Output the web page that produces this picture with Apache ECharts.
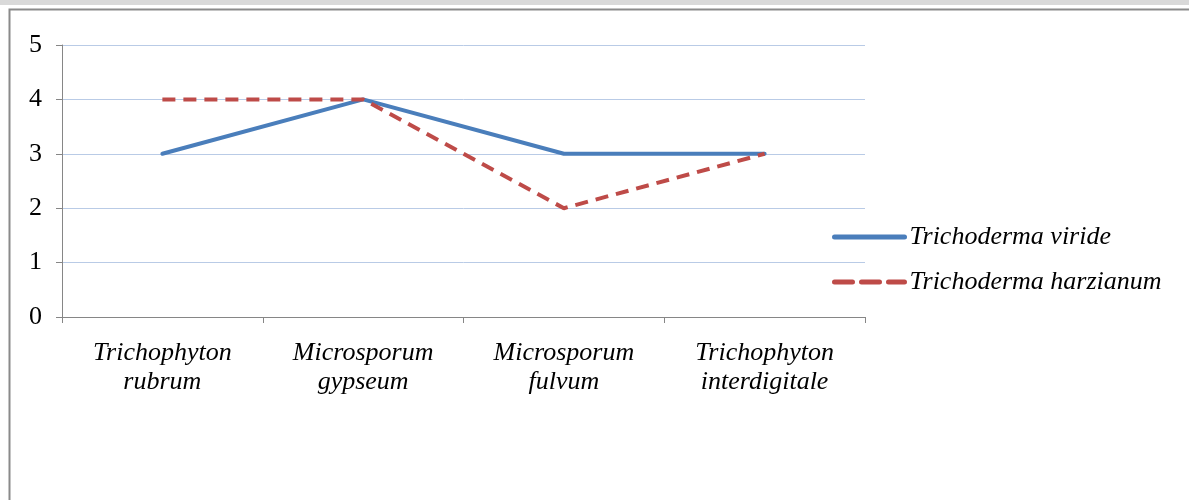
<!DOCTYPE html>
<html>
<head>
  <meta charset="utf-8">
</head>
<body style="margin: 0; background: #fff">
  <div id="container" style="width: 1189px; height: 500px"></div>

  <script type="text/javascript" src="https://cdn.jsdelivr.net/npm/echarts@6/dist/echarts.min.js"></script>

  <script type="text/javascript">
    var categories = [
      'Trichophyton\nrubrum',
      'Microsporum\ngypseum',
      'Microsporum\nfulvum',
      'Trichophyton\ninterdigitale'
    ];
    var viride = [3, 4, 3, 3];
    var harzianum = [4, 4, 2, 3];
    var seriesNames = ['Trichoderma viride', 'Trichoderma harzianum'];

    var font = '"Liberation Serif", "Times New Roman", serif';
    var chart = echarts.init(document.getElementById('container'), null, { renderer: 'canvas' });

    var option = {
      animation: false,
      backgroundColor: '#fff',
      graphic: [
        { type: 'rect', shape: { x: 0, y: 0, width: 1189, height: 5 }, style: { fill: '#d9d9d9' } },
        { type: 'rect', shape: { x: 9.5, y: 9.5, width: 1300, height: 600 }, style: { fill: 'none', stroke: '#8a8a8a', lineWidth: 2 } }
      ],
      grid: { left: 62, right: 324, top: 45, bottom: 183 },
      legend: {
        orient: 'vertical',
        left: 827,
        top: 218,
        itemWidth: 70,
        itemHeight: 14,
        itemGap: 17,
        itemStyle: { opacity: 0 },
        lineStyle: { width: 5 },
        textStyle: { fontFamily: font, fontStyle: 'italic', fontSize: 26, color: '#000', lineHeight: 28 },
        data: [
          { name: seriesNames[0], lineStyle: { width: 5, cap: 'round' } },
          { name: seriesNames[1], lineStyle: { width: 5, type: [18, 9], cap: 'round' } }
        ]
      },
      xAxis: {
        type: 'category',
        data: categories,
        boundaryGap: true,
        axisLine: { lineStyle: { color: '#868686', width: 1 } },
        axisTick: { show: true, length: 6, alignWithLabel: false, lineStyle: { color: '#868686' } },
        axisLabel: { margin: 22, fontFamily: font, fontStyle: 'italic', fontSize: 26, color: '#000', lineHeight: 29, interval: 0 }
      },
      yAxis: {
        type: 'value',
        min: 0,
        max: 5,
        interval: 1,
        axisLine: { show: true, lineStyle: { color: '#868686', width: 1 } },
        axisTick: { show: true, length: 6, lineStyle: { color: '#868686' } },
        axisLabel: { margin: 20, fontFamily: font, fontSize: 26, color: '#000' },
        splitLine: { lineStyle: { color: '#b9cbe6', width: 1 } }
      },
      series: [
        {
          name: seriesNames[0],
          type: 'line',
          data: viride,
          symbol: 'none',
          color: '#4a7ebb',
          lineStyle: { color: '#4a7ebb', width: 4, cap: 'round' },
          z: 3
        },
        {
          name: seriesNames[1],
          type: 'line',
          data: harzianum,
          symbol: 'none',
          color: '#be4b48',
          lineStyle: { color: '#be4b48', width: 4, type: [13, 8] },
          z: 4
        }
      ]
    };

    chart.setOption(option);
    window.addEventListener('resize', chart.resize);
  </script>
</body>
</html>
